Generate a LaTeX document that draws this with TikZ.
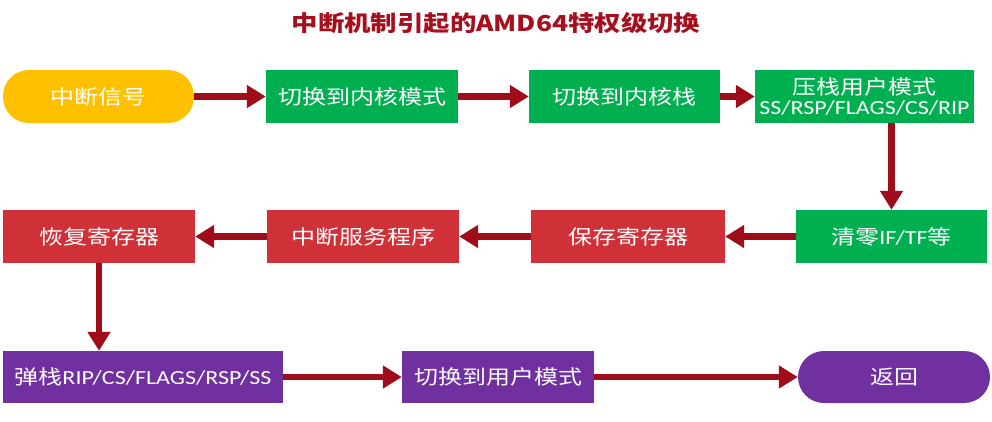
\documentclass[tikz,border=0pt]{standalone}
\usepackage{fontspec}
\setmainfont[FakeStretch=1.2]{Noto Sans CJK SC}
\newfontfamily\lat[FakeStretch=1.2]{Carlito}
\usetikzlibrary{arrows.meta}
\definecolor{ttl}{HTML}{A50F1E}
\definecolor{arr}{HTML}{A00D1A}
\definecolor{yel}{HTML}{FFC000}
\definecolor{grn}{HTML}{00B050}
\definecolor{rd}{HTML}{D03038}
\definecolor{prp}{HTML}{7030A0}
\tikzset{
  base/.style={text=white, inner sep=0pt, align=center, font=\fontsize{20}{24}\selectfont, minimum height=53pt},
  oval/.style={base, rounded corners=26pt},
  gbox/.style={base, fill=grn},
  rbox/.style={base, fill=rd},
  pbox/.style={base, fill=prp, minimum height=52pt},
  flow/.style={draw=arr, line width=6.5pt, -{Triangle[length=19pt,width=22pt]}}
}
\begin{document}
\begin{tikzpicture}[x=1pt,y=-1pt]
\useasboundingbox (0,0) rectangle (992,421);
\node[font=\bfseries\fontsize{22}{26}\selectfont, text=ttl] (title) at (496,23) {中断机制引起的AMD64特权级切换};
% row 1
\node[oval, fill=yel, minimum width=191pt] (sig) at (98.5,96.5) {中断信号};
\node[gbox, minimum width=192pt] (k1) at (362,96.5) {切换到内核模式};
\node[gbox, minimum width=191pt] (k2) at (624.5,96.5) {切换到内核栈};
\node[gbox, minimum width=219pt, font=\fontsize{20}{22}\selectfont] (k3) at (864.5,96.5) {压栈用户模式\\[-2pt]{\lat\fontsize{20}{22}\selectfont SS/RSP/FLAGS/CS/RIP}};
% row 2
\node[gbox, minimum width=191pt] (c0) at (891.5,236.5) {清零{\lat IF/TF}等};
\node[rbox, minimum width=194pt] (s1) at (628,236.5) {保存寄存器};
\node[rbox, minimum width=192pt] (s2) at (363,236.5) {中断服务程序};
\node[rbox, minimum width=192pt] (s3) at (99,236.5) {恢复寄存器};
% row 3
\node[pbox, minimum width=280pt] (p1) at (143,377) {弹栈{\lat RIP/CS/FLAGS/RSP/SS}};
\node[pbox, minimum width=192pt] (p2) at (498,377) {切换到用户模式};
\node[pbox, rounded corners=26pt, minimum width=192pt] (ret) at (894,377) {返回};
% connectors
\draw[flow] (sig) -- (k1);
\draw[flow] (k1) -- (k2);
\draw[flow] (k2) -- (k3);
\draw[flow] (k3.south -| c0.north) -- (c0.north);
\draw[flow] (c0) -- (s1);
\draw[flow] (s1) -- (s2);
\draw[flow] (s2) -- (s3);
\draw[flow] (s3.south) -- (s3.south |- p1.north);
\draw[flow] (p1) -- (p2);
\draw[flow] (p2) -- (ret);
\end{tikzpicture}
\end{document}
